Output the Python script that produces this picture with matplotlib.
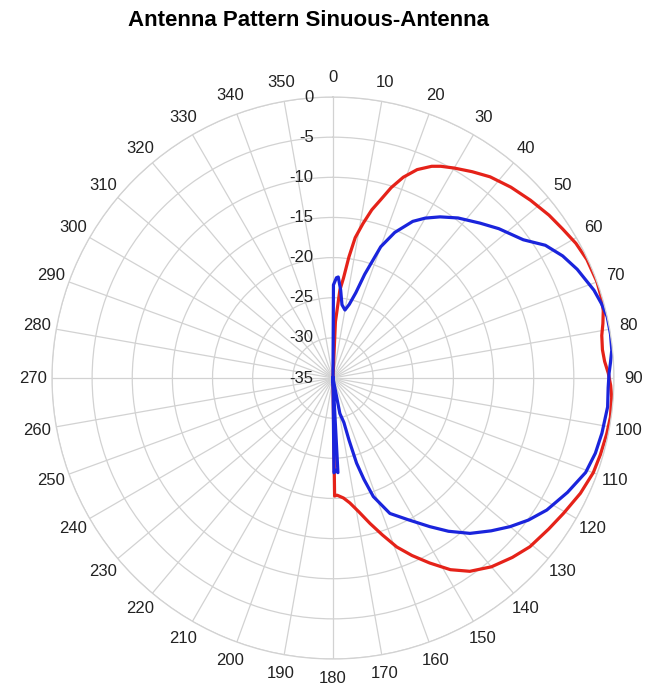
import numpy as np
from matplotlib import pyplot as plt
from matplotlib.transforms import offset_copy

# angles (deg) and gain (dB), outer ring = 0 dB, centre = -35 dB
red_deg = [1, 2.5, 4.5, 6, 7.5, 9, 11, 13, 15, 17, 19.3, 22, 25, 27, 30, 34, 38, 43, 48, 53,
           57, 61, 65, 70, 73, 76, 78.6, 81, 84, 86.5, 89, 91.5, 94, 98, 101.5, 106, 110, 115,
           120.4, 125, 130.6, 135, 140, 144.7, 148.5, 152.4, 156, 159.3, 162.5, 165.7, 169,
           172.3, 175, 178, 179.2, 180]
red_db = [-35, -28.0, -24.0, -22.5, -19.8, -17.3, -15.4, -13.5, -12.0, -10.2, -8.5, -7.0, -5.9,
          -5.4, -4.8, -4.0, -3.2, -2.5, -1.9, -1.3, -0.9, -0.4, -0.1, 0.0, -0.1, -0.3, -0.7,
          -1.1, -1.25, -1.1, -0.7, -0.4, -0.2, -0.1, -0.2, -0.35, -0.5, -1.0, -1.7, -2.2, -2.7,
          -3.4, -4.3, -5.5, -7.0, -9.0, -10.8, -12.5, -14.5, -16.3, -18.0, -19.3, -20.0, -20.4,
          -20.3, -35]

blue_deg = [0, 0.3, 2, 3, 5, 7, 10, 12.5, 15, 17, 18.5, 20, 23, 27, 30, 33.6, 38, 43.5, 48, 54,
            58, 62, 66, 71.4, 74.5, 77.4, 81, 84.3, 87, 89, 92, 96, 101.6, 106, 110.5, 116,
            121.7, 126, 130, 134, 138.6, 143, 146.9, 152, 157.2, 161.2, 163, 164.5, 165.5, 166.2,
            169, 172, 176.5, 177, 178.3, 179.4, 180]
blue_db = [-35, -23.4, -22.5, -22.4, -24.0, -25.8, -26.4, -25.6, -24.0, -21.5, -19.8, -17.6,
           -15.3, -13.1, -12.0, -10.9, -9.7, -8.4, -7.2, -5.7, -3.8, -2.6, -1.7, -0.7, -0.3, 0.0,
           0.0, -0.1, -0.4, -0.6, -0.7, -0.6, -0.8, -1.0, -1.4, -2.5, -3.7, -4.9, -6.2, -7.6,
           -9.2, -11.1, -12.9, -15.0, -16.7, -19.4, -21.8, -24.0, -27.0, -29.3, -30.5, -35, -35,
           -23.2, -23.5, -23.2, -35]

angle_ticks = list(range(0, 360, 10))
r_ticks = [0, -5, -10, -15, -20, -25, -30, -35]

fig = plt.figure(figsize=(6.53, 6.89), dpi=100)
plt.rcParams['font.family'] = ['Liberation Sans', 'DejaVu Sans']
ax = fig.add_axes([0.0796, 0.0435, 0.8606, 0.8157], projection='polar')
ax.set_theta_zero_location('N')
ax.set_theta_direction(-1)
ax.set_rlim(-35, 0)
ax.set_rticks(r_ticks)
ax.set_yticklabels([])
ax.set_xticks(np.deg2rad(angle_ticks))
ax.set_xticklabels([])
ax.grid(color='#d2d2d2', linewidth=0.9)
ax.spines['polar'].set_color('#d2d2d2')
ax.spines['polar'].set_linewidth(0.9)

ax.plot(np.deg2rad(red_deg), red_db, color='#e52219', linewidth=2.3)
ax.plot(np.deg2rad(blue_deg), blue_db, color='#1a24dc', linewidth=2.3)

# angle labels round the outside
for a in angle_ticks:
    ax.text(np.deg2rad(a), 2.4, str(a), ha='center', va='center', fontsize=12,
            color='#222222', clip_on=False)

# dB labels just left of the 0 deg spoke
lbl_tr = offset_copy(ax.transData, fig=fig, x=-14, y=0, units='points')
for r in r_ticks:
    ax.text(0, r, str(r), transform=lbl_tr, ha='right', va='center', fontsize=12,
            color='#222222', clip_on=False)

fig.text(0.472, 1 - 20 / 689, "Antenna Pattern Sinuous-Antenna", ha='center', va='center',
         fontsize=16, fontweight='bold')

plt.savefig("out.png", dpi=100)
